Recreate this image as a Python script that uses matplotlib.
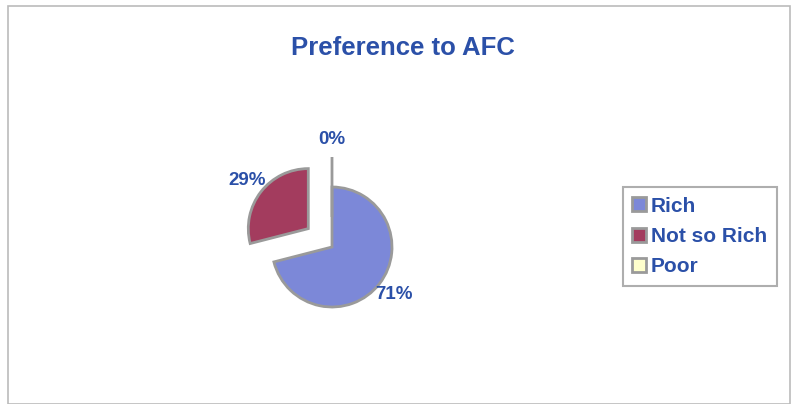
import matplotlib
matplotlib.use("Agg")
import matplotlib.pyplot as plt
from matplotlib.patches import Rectangle

categories = ["Rich", "Not so Rich", "Poor"]
values = [71, 29, 0]
colors = ["#7C88D8", "#A33C5E", "#FFFFCC"]
explode = [0.0, 0.5, 0.5]
title = "Preference to AFC"

text_color = "#2B50A8"
plt.rcParams['font.family'] = ['Liberation Sans', 'DejaVu Sans']

fig = plt.figure(figsize=(7.92, 4.04), dpi=100)
fig.patch.set_facecolor("white")
fig.patches.append(Rectangle((8/792, 0), 1 - 10/792, 1 - 6/404, transform=fig.transFigure,
                             fill=False, edgecolor="#BBBBBB", linewidth=1.2))

W, H = 792, 404
cx, cy, half = 332, 247, 120
ax = fig.add_axes([(cx - half) / W, (H - cy - half) / H, 2 * half / W, 2 * half / H])
wedges, texts, autotexts = ax.pie(
    values, colors=colors, explode=explode, startangle=90, counterclock=False,
    autopct=lambda p: f"{p:.0f}%", pctdistance=1.3,
    wedgeprops=dict(edgecolor="#9A9A9A", linewidth=2.0),
    textprops=dict(color=text_color, fontsize=13.5, fontweight="bold"))
ax.set_xlim(-2, 2)
ax.set_ylim(-2, 2)
ax.set_aspect("equal")
ax.axis("off")

fig.text(403 / W, 1 - 48 / H, title, ha="center", va="center",
         fontsize=18.5, fontweight="bold", color=text_color)

leg = fig.legend(wedges, categories, loc="center left",
                 bbox_to_anchor=(623 / W, 1 - 236.5 / H), frameon=True,
                 fancybox=False, edgecolor="#9A9A9A", fontsize=15,
                 handlelength=0.65, handleheight=0.65, handletextpad=0.25,
                 labelspacing=0.55, borderpad=0.45, borderaxespad=0)
leg.get_frame().set_linewidth(1.5)
for t in leg.get_texts():
    t.set_color(text_color)
    t.set_fontweight("bold")

fig.savefig("out.png", dpi=100)
